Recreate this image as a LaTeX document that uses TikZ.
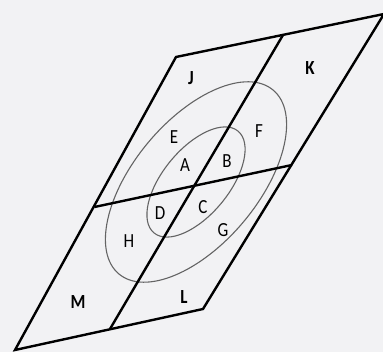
\documentclass[tikz,border=0pt]{standalone}
\usepackage{fontspec}
\setmainfont{Carlito}
\definecolor{bgc}{RGB}{242,242,244}
\definecolor{ringc}{RGB}{100,100,100}
\begin{document}
\begin{tikzpicture}[x=1pt,y=1pt,
  frame/.style={line width=2.4pt,line join=miter,black},
  ring/.style={line width=1.1pt,ringc},
  lab/.style={font=\fontsize{20}{20}\selectfont,inner sep=0pt,xscale=0.85},
  blab/.style={font=\fontsize{20}{20}\selectfont\bfseries,inner sep=0pt,xscale=0.85}]
\fill[bgc] (0,0) rectangle (383,352);
\useasboundingbox (0,0) rectangle (383,352);
\begin{scope}
\clip (0,0) rectangle (383,352);
\coordinate (TL) at (176,295);
\coordinate (TR) at (384,338);
\coordinate (BR) at (203,43);
\coordinate (BL) at (15,2);
\coordinate (VT) at (283,317);
\coordinate (VB) at (110,23);
\coordinate (HL) at (94.5,145);
\coordinate (HR) at (292,187);
\coordinate (O) at (196,170);
\draw[ring, rotate around={50:(O)}] (O) ellipse [x radius=120, y radius=62];
\draw[ring, rotate around={50.5:(O)}] (O) ellipse [x radius=66, y radius=33];
\draw[frame] (TL) -- (TR) -- (BR) -- (BL) -- cycle;
\draw[frame] (VT) -- (VB);
\draw[frame] (HL) -- (HR);
\end{scope}
\node[blab] (J) at (191,274) {J};
\node[blab] (K) at (310,284) {K};
\node[lab] (E) at (174,215) {E};
\node[lab] (F) at (259,221) {F};
\node[lab] (A) at (185,187) {A};
\node[lab] (B) at (227,191) {B};
\node[lab] (D) at (160,139) {D};
\node[lab] (C) at (203,145) {C};
\node[lab] (G) at (223,122) {G};
\node[lab] (H) at (129,111) {H};
\node[blab] (M) at (78,50) {M};
\node[blab] (L) at (184,55) {L};
\end{tikzpicture}
\end{document}
